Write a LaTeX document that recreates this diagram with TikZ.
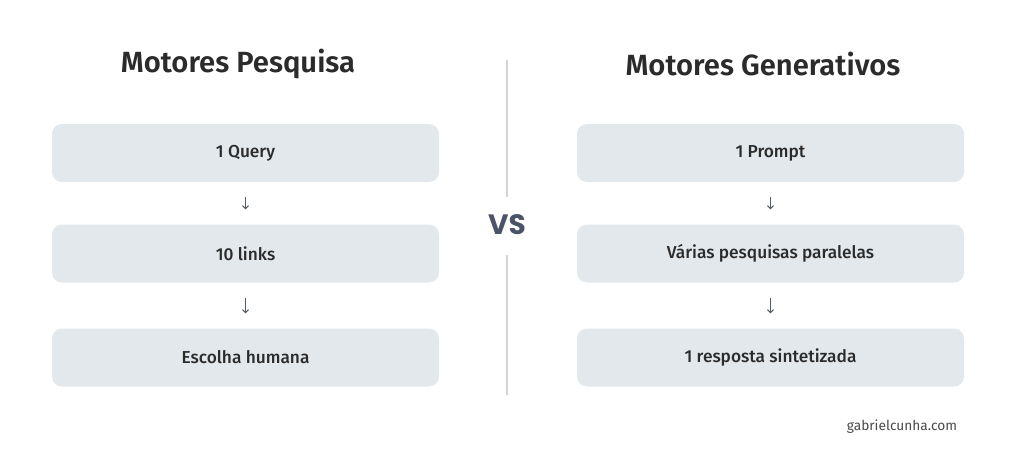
\documentclass[tikz,border=0pt]{standalone}
\usepackage{fontspec}
\setmainfont{Fira Sans}
\newfontfamily\medfont{Fira Sans Medium}
\newfontfamily\semifont{Fira Sans SemiBold}
\newfontfamily\vsfont{Poppins}
\usetikzlibrary{arrows.meta}
\definecolor{boxfill}{HTML}{E3E8EC}
\definecolor{txt}{HTML}{2B2B2B}
\definecolor{divider}{HTML}{D4D4D4}
\definecolor{vscol}{HTML}{4A5466}
\definecolor{arrowcol}{HTML}{555B63}
\definecolor{urlcol}{HTML}{4A4A4A}
\begin{document}
\begin{tikzpicture}[x=1pt,y=-1pt,
  stepbox/.style={fill=boxfill, rounded corners=10pt, minimum width=387pt, minimum height=58pt, inner sep=0pt, text=txt, font=\medfont\fontsize{17.3}{19}\selectfont},
  title/.style={text=txt, font=\semifont\fontsize{29.2}{33}\selectfont},
  flow/.style={draw=arrowcol, line width=1pt, -{Straight Barb[length=3pt,width=6pt]}, shorten <=15pt, shorten >=15pt}
]
\useasboundingbox (0,0) rectangle (1024,455);
\fill[white] (0,0) rectangle (1024,455);
% titles
\node[title] (lt) at (238,64) {Motores Pesquisa};
\node[title] (rt) at (763,64) {Motores Generativos};
% left column
\node[stepbox] (l1) at (245.5,153) {1 Query};
\node[stepbox] (l2) at (245.5,253.5) {10 links};
\node[stepbox] (l3) at (245.5,357.5) {Escolha humana};
% right column
\node[stepbox] (r1) at (770.5,153) {1 Prompt};
\node[stepbox] (r2) at (770.5,253.5) {Várias pesquisas paralelas};
\node[stepbox] (r3) at (770.5,357.5) {1 resposta sintetizada};
% arrows
\draw[flow] (l1.south) -- (l2.north);
\draw[flow] (l2.south) -- (l3.north);
\draw[flow] (r1.south) -- (r2.north);
\draw[flow] (r2.south) -- (r3.north);
% divider and vs
\coordinate (dtop) at (507,60);
\coordinate (dbot) at (507,395);
\node[text=vscol, font=\vsfont\fontsize{28}{30}\selectfont\bfseries] (vs) at (507,225) {VS};
\draw[divider, line width=1.2pt] (dtop) -- (507,197);
\draw[divider, line width=1.2pt] (507,255) -- (dbot);
% url
\node[text=urlcol, font=\fontsize{13.7}{15}\selectfont] (url) at (902,427) {gabrielcunha.com};
\end{tikzpicture}
\end{document}
